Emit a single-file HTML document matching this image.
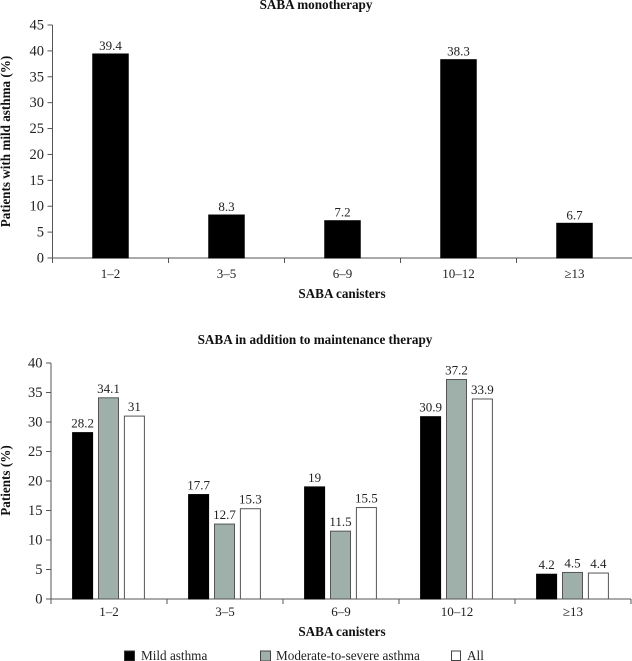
<!DOCTYPE html>
<html>
<head>
<meta charset="utf-8">
<title>SABA canisters chart</title>
<style>
html,body{margin:0;padding:0;background:#fff;}
svg{display:block;}
text{font-family:"Liberation Serif",serif;fill:#222;}
.b{font-weight:bold;font-size:13.15px;fill:#111;}
.t{font-size:13px;}
.y{font-size:14.5px;}
.l{font-size:13.2px;}
</style>
</head>
<body>
<svg id="chart" xmlns="http://www.w3.org/2000/svg" width="632" height="661" viewBox="0 0 632 661">
<text class="b" x="316" y="9" text-anchor="middle">SABA monotherapy</text>
<text class="b" x="342" y="298" text-anchor="middle">SABA canisters</text>
<text class="b" transform="translate(10,141.5) rotate(-90)" text-anchor="middle">Patients with mild asthma (%)</text>
<text class="b" x="315" y="344" text-anchor="middle">SABA in addition to maintenance therapy</text>
<text class="b" x="342" y="636" text-anchor="middle">SABA canisters</text>
<text class="b" transform="translate(10,480.5) rotate(-90)" text-anchor="middle">Patients (%)</text>
<g>
<rect x="124.5" y="651" width="10" height="10" fill="#000" stroke="#333"/>
<text class="l" x="141" y="660">Mild asthma</text>
<rect x="260.5" y="651" width="10" height="10" fill="#9fb0ab" stroke="#444"/>
<text class="l" x="276" y="660">Moderate-to-severe asthma</text>
<rect x="451.5" y="651" width="9" height="9.5" fill="#fff" stroke="#444"/>
<text class="l" x="467" y="660">All</text>
</g>
</svg>
<script>
const categories = ['1–2', '3–5', '6–9', '10–12', '≥13'];
const monotherapyValues = [39.4, 8.3, 7.2, 38.3, 6.7];
const mildValues = [28.2, 17.7, 19, 30.9, 4.2];
const moderateSevereValues = [34.1, 12.7, 11.5, 37.2, 4.5];
const allValues = [31, 15.3, 15.5, 33.9, 4.4];
const topTicks = [0, 5, 10, 15, 20, 25, 30, 35, 40, 45];
const bottomTicks = [0, 5, 10, 15, 20, 25, 30, 35, 40];

const svg = document.getElementById('chart');
const NS = 'http://www.w3.org/2000/svg';

function add(parent, tag, attrs, txt) {
  const el = document.createElementNS(NS, tag);
  for (const k in attrs) el.setAttribute(k, attrs[k]);
  if (txt !== undefined) el.textContent = txt;
  parent.appendChild(el);
  return el;
}

function linear(d0, d1, r0, r1) {
  return v => r0 + (v - d0) * (r1 - r0) / (d1 - d0);
}

function drawAxes(group, xLeft, xRight, y, ticks, count, xLabelOffset) {
  const axisColor = '#555';
  const xAxis = add(group, 'line', {x1: xLeft, x2: xRight, y1: y(0), y2: y(0), stroke: axisColor, 'stroke-width': 1});
  
  
  const yAxis = add(group, 'line', {x1: xLeft, x2: xLeft, y1: y(ticks[ticks.length - 1]), y2: y(0) + 5, stroke: axisColor, 'stroke-width': 1});
  
  
  ticks.forEach(t => {
    const tick = add(group, 'line', {x1: xLeft - 5, x2: xLeft, y1: y(t), y2: y(t), stroke: axisColor, 'stroke-width': 1});
    
    
    const label = add(group, 'text', {class: 'y', x: xLeft - 8.5, y: y(t) + 4.5, 'text-anchor': 'end'}, String(t));
    
    
  });
  const step = (xRight - xLeft) / count;
  for (let i = 1; i <= count; i++) {
    const x = xLeft + step * i;
    const tick = add(group, 'line', {x1: x, x2: x, y1: y(0), y2: y(0) + 5, stroke: axisColor, 'stroke-width': 1});
    
    
  }
  categories.forEach((c, i) => {
    const label = add(group, 'text', {class: 't', x: xLeft + step * (i + 0.5), y: y(0) + xLabelOffset, 'text-anchor': 'middle'}, c);
    
    
  });
}

function drawBar(group, x, w, value, y, fill, stroke, labelGap) {
  const bar = add(group, 'rect', {x: x + 0.5, y: y(value), width: w - 1, height: y(0) - y(value), fill: fill, stroke: stroke, 'stroke-width': 1});
  
  
  const label = add(group, 'text', {class: 't', x: x + w / 2, y: y(value) - labelGap, 'text-anchor': 'middle'}, String(value));
  
  
}

/* top chart */
const topGroup = add(svg, 'g', {});


const yTop = linear(0, 45, 258, 25);
const topX0 = 52.5, topStep = 116, topBarW = 36.5;
drawAxes(topGroup, topX0, topX0 + topStep * categories.length, yTop, topTicks, categories.length, 20);
monotherapyValues.forEach((v, i) => {
  const cx = topX0 + topStep * (i + 0.5);
  drawBar(topGroup, cx - topBarW / 2, topBarW, v, yTop, '#000', '#000', 4);
});

/* bottom chart */
const botGroup = add(svg, 'g', {});


const yBot = linear(0, 40, 599, 363);
const botX0 = 51, botStep = 116, botBarW = 21, botPitch = 25.9;
drawAxes(botGroup, botX0, botX0 + botStep * categories.length, yBot, bottomTicks, categories.length, 17);
const seriesList = [
  {values: mildValues, fill: '#000', stroke: '#000'},
  {values: moderateSevereValues, fill: '#9fb0ab', stroke: '#555'},
  {values: allValues, fill: '#fff', stroke: '#555'}
];
seriesList.forEach((s, si) => {
  s.values.forEach((v, i) => {
    const cx = botX0 + botStep * (i + 0.5) + botPitch * (si - 1) - 0.5;
    drawBar(botGroup, cx - botBarW / 2, botBarW, v, yBot, s.fill, s.stroke, 5);
  });
});
</script>
</body>
</html>
